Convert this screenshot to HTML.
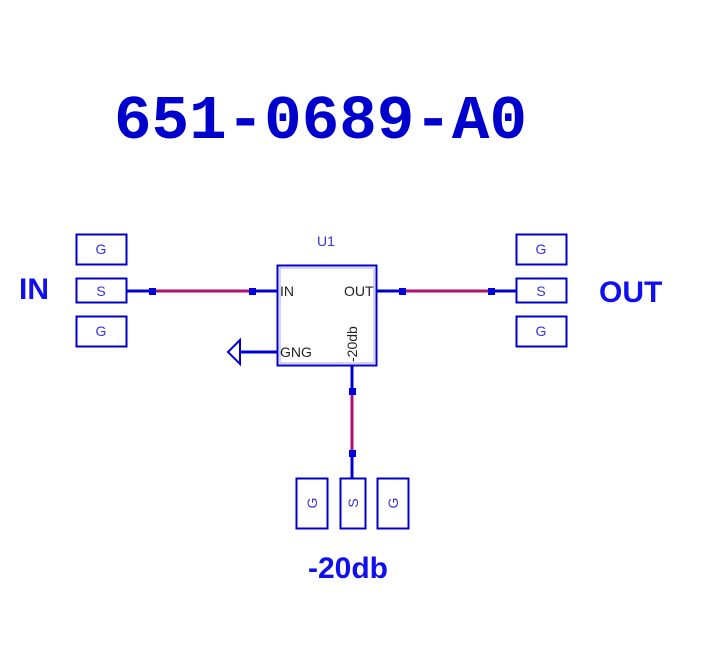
<!DOCTYPE html>
<html><head><style>body{margin:0;background:#fff}svg{display:block}</style></head><body>
<svg width="706" height="661" xmlns="http://www.w3.org/2000/svg" font-family="Liberation Sans, sans-serif">
<text x="114" y="138" font-family="Liberation Mono, monospace" font-weight="bold" font-size="62" fill="#0000cc" textLength="413" lengthAdjust="spacingAndGlyphs">651-0689-A0</text>
<text x="19" y="299" font-weight="bold" font-size="30" fill="#1010ee">IN</text>
<text x="599" y="302" font-weight="bold" font-size="30" fill="#1010ee">OUT</text>
<text x="308" y="578" font-weight="bold" font-size="30" fill="#1010ee">-20db</text>
<text x="317" y="246" font-size="14" fill="#3333dd">U1</text>
<g fill="none" stroke="#0000cc" stroke-width="2">
<rect x="76.5" y="234.5" width="50" height="30"/><rect x="76.5" y="278.5" width="50" height="24"/><rect x="76.5" y="316.5" width="50" height="30"/>
<rect x="516.5" y="234.5" width="50" height="30"/><rect x="516.5" y="278.5" width="50" height="24"/><rect x="516.5" y="316.5" width="50" height="30"/>
<rect x="296.5" y="478.5" width="31" height="50"/><rect x="340.5" y="478.5" width="25" height="50"/><rect x="377.5" y="478.5" width="31" height="50"/>
<rect x="277.5" y="265.5" width="99" height="100"/>
<path d="M240 340L228 352L240 364Z"/>
</g>
<g fill="none" stroke="#0000cc" stroke-width="3"><path d="M127 291H152M252 291H277M377 291H402M491 291H516M352 366V391M352 453V478M277 352H240"/></g>
<rect x="280" y="268" width="94" height="95" fill="none" stroke="#aaaaee" stroke-width="1"/>
<g stroke="#b0106e" stroke-width="3"><path d="M152 291H252M402 291H491M352 391V453"/></g>
<g fill="#0000dd"><rect x="149" y="288" width="7" height="7"/><rect x="249" y="288" width="7" height="7"/><rect x="399" y="288" width="7" height="7"/><rect x="488" y="288" width="7" height="7"/><rect x="349" y="388" width="7" height="7"/><rect x="349" y="450" width="7" height="7"/></g>
<g font-size="14" fill="#3333dd" text-anchor="middle">
<text x="101" y="254">G</text><text x="101" y="296">S</text><text x="101" y="336">G</text>
<text x="541" y="254">G</text><text x="541" y="296">S</text><text x="541" y="336">G</text>
<text transform="translate(317,503) rotate(-90)">G</text><text transform="translate(358,503) rotate(-90)">S</text><text transform="translate(398,503) rotate(-90)">G</text>
</g>
<g font-size="14" fill="#222">
<text x="280" y="296">IN</text><text x="344" y="296">OUT</text><text x="280" y="357">GNG</text>
<text transform="translate(357,362) rotate(-90)">-20db</text>
</g>
</svg>
</body></html>
